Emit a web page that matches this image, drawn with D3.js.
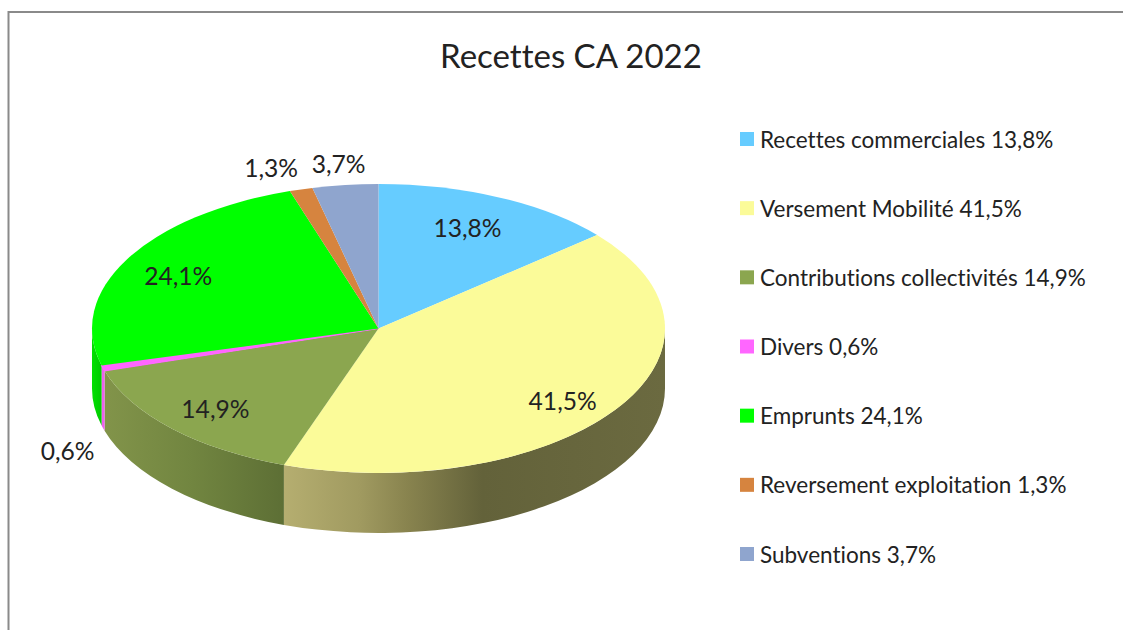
<!DOCTYPE html>
<html>
<head>
<meta charset="utf-8">
<script src="https://cdn.jsdelivr.net/npm/d3@7"></script>
<style>
  html, body { margin: 0; padding: 0; background: #fff; overflow: hidden; }
  text { font-family: Lato, "Open Sans", sans-serif; fill: #222; font-variant-ligatures: none; }
</style>
</head>
<body>
<div id="chart"></div>
<script>
var categories = ["Recettes commerciales", "Versement Mobilité", "Contributions collectivités", "Divers", "Emprunts", "Reversement exploitation", "Subventions"];
var values = [13.8, 41.5, 14.9, 0.6, 24.1, 1.3, 3.7];
var colors = ["#66ccff", "#fbfb99", "#8ba64f", "#ff66ff", "#00ff00", "#d6843f", "#8fa5ce"];
var title = "Recettes CA 2022";

// hand placed data labels, offset from the slice centroid
var labelOffsets = [[-5, 1], [0, 8], [-2, 2], [-96, 91], [-4, 1], [-47, -52], [-14, -53]];

var width = 1123, height = 630;
var cx = 378.5, cy = 328.5, rx = 286.5, ry = 144.5, depth = 60;

var svg = d3.select("#chart")
    .append("svg")
    .attr("width", width)
    .attr("height", height);

var fmt = function (v) { return d3.format(".1f")(v).replace(".", ",") + "%"; };

// frame, only top and left show in the picture
svg.append("path")
    .attr("d", "M8.5," + height + "V12H" + width)
    .attr("fill", "none")
    .attr("stroke", "#8a8a8a")
    .attr("stroke-width", 2);

var pie = d3.pie().sort(null).value(function (d) { return d; });
var slices = pie(values);

function px(a) { return cx + rx * Math.sin(a); }
function py(a) { return cy - ry * Math.cos(a); }

// wall shading, sampled along x
var defs = svg.append("defs");
function wallGradient(id, x1, x2, stops) {
    var g = defs.append("linearGradient")
        .attr("id", id)
        .attr("gradientUnits", "userSpaceOnUse")
        .attr("x1", x1).attr("x2", x2)
        .attr("y1", 0).attr("y2", 0);
    stops.forEach(function (s) {
        g.append("stop").attr("offset", s[0]).attr("stop-color", s[1]);
    });
}
wallGradient("wall1", 284, 665, [[0, "#b5ae70"], [0.2, "#a09a60"], [0.32, "#89844f"], [0.52, "#63623a"], [1, "#6b6a40"]]);
wallGradient("wall2", 103, 284, [[0, "#82944a"], [0.5, "#718540"], [1, "#5d6f35"]]);
wallGradient("wall4", 92, 104, [[0, "#00e000"], [1, "#00c400"]]);

var wallFill = { 1: "url(#wall1)", 2: "url(#wall2)", 3: "#ee60ee", 4: "url(#wall4)" };

function wallPath(d) {
    var a0 = Math.max(d.startAngle, Math.PI / 2);
    var a1 = Math.min(d.endAngle, Math.PI * 1.5);
    return "M" + px(a0) + "," + py(a0) +
        "A" + rx + "," + ry + " 0 0 1 " + px(a1) + "," + py(a1) +
        "L" + px(a1) + "," + (py(a1) + depth) +
        "A" + rx + "," + ry + " 0 0 0 " + px(a0) + "," + (py(a0) + depth) + "Z";
}

svg.append("g")
    .selectAll("path")
    .data(slices.filter(function (d) { return d.endAngle > Math.PI / 2 && d.startAngle < Math.PI * 1.5; }))
    .enter()
    .append("path")
    .attr("d", wallPath)
    .attr("fill", function (d) { return wallFill[d.index]; });

// top face is a circle squashed into an ellipse
var arc = d3.arc().innerRadius(0).outerRadius(rx);
var labelArc = d3.arc().innerRadius(rx * 0.78).outerRadius(rx * 0.78);

svg.append("g")
    .attr("transform", "translate(" + cx + "," + cy + ") scale(1," + (ry / rx) + ")")
    .selectAll("path")
    .data(slices)
    .enter()
    .append("path")
    .attr("d", arc)
    .attr("fill", function (d) { return colors[d.index]; })
    // the thin Divers slice needs a little extra weight to read as in the original
    .attr("stroke", function (d) { return d.index === 3 ? colors[3] : "none"; })
    .attr("stroke-width", 1.2)
    .attr("vector-effect", "non-scaling-stroke");

svg.selectAll(".label")
    .data(slices)
    .enter()
    .append("text")
    .attr("class", "label")
    .attr("text-anchor", "middle")
    .attr("dominant-baseline", "central")
    .attr("x", function (d) { return cx + labelArc.centroid(d)[0] + labelOffsets[d.index][0]; })
    .attr("y", function (d) { return cy + labelArc.centroid(d)[1] * ry / rx + labelOffsets[d.index][1]; })
    .style("font-size", "24.6px")
    .text(function (d) { return fmt(d.value); });

svg.append("text")
    .attr("x", 571)
    .attr("y", 68)
    .attr("text-anchor", "middle")
    .style("font-size", "33px")
    .text(title);

// legend
var legendY = d3.scalePoint().domain(categories).range([139, 554]);

var legend = svg.selectAll(".legend")
    .data(categories)
    .enter()
    .append("g")
    .attr("class", "legend")
    .attr("transform", function (d) { return "translate(740," + legendY(d) + ")"; });

legend.append("rect")
    .attr("y", -7)
    .attr("width", 14)
    .attr("height", 14)
    .attr("fill", function (d, i) { return colors[i]; });

legend.append("text")
    .attr("x", 20)
    .attr("dominant-baseline", "central")
    .style("font-size", "22.5px")
    .text(function (d, i) { return d + " " + fmt(values[i]); });
</script>
</body>
</html>
